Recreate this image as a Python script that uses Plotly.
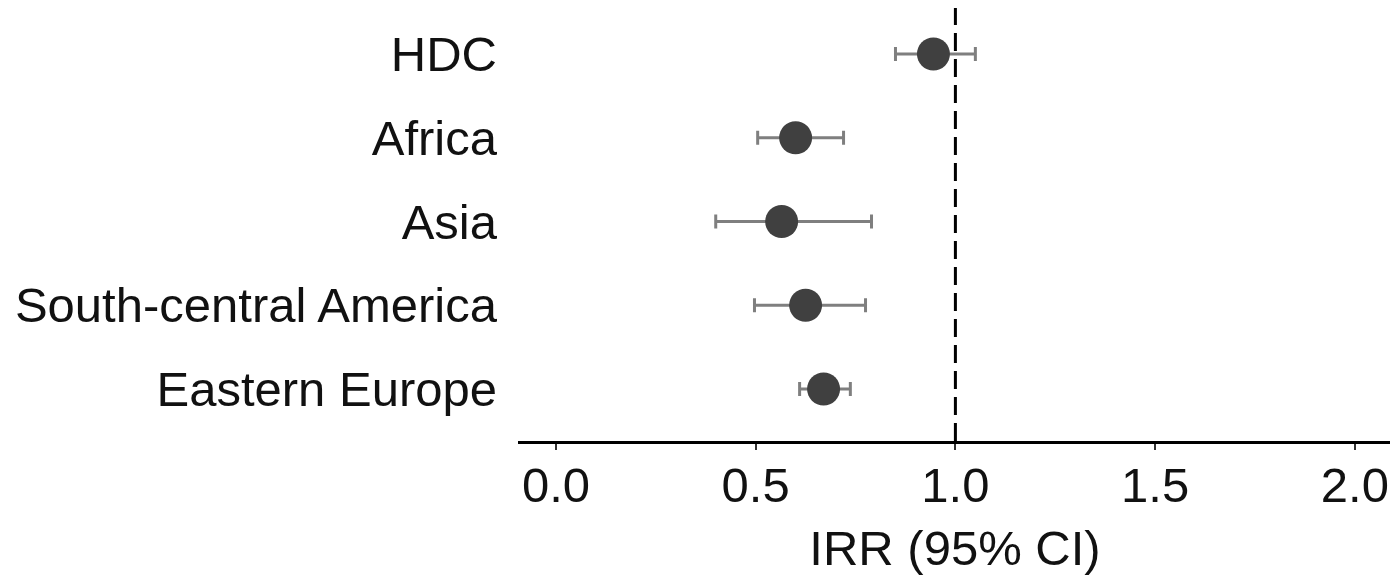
import plotly.graph_objects as go

# forest plot of IRR by region of origin
regions = ['HDC', 'Africa', 'Asia', 'South-central America', 'Eastern Europe']
irr = [0.945, 0.60, 0.565, 0.625, 0.67]
ci_low = [0.85, 0.505, 0.40, 0.497, 0.61]
ci_high = [1.05, 0.72, 0.79, 0.775, 0.737]

x_ticks = [0.0, 0.5, 1.0, 1.5, 2.0]
ref_line = 1.0

err_plus = [h - m for h, m in zip(ci_high, irr)]
err_minus = [m - l for m, l in zip(irr, ci_low)]

font_family = 'Liberation Sans, Arial, sans-serif'
fsize = 49

fig = go.Figure()
fig.add_trace(go.Scatter(
    x=irr,
    y=regions,
    mode='markers',
    marker=dict(size=33, color='#404040', line=dict(width=0)),
    error_x=dict(type='data', symmetric=False, array=err_plus, arrayminus=err_minus,
                 color='#7f7f7f', thickness=3, width=7),
    showlegend=False,
))

# reference line at IRR = 1
fig.add_shape(type='line', x0=ref_line, x1=ref_line, xref='x', y0=0, y1=1, yref='paper',
              line=dict(color='black', width=3, dash='18px,8px'), layer='above')

# page body has an 8px margin, so the figure is a bit smaller than the window
fig.update_layout(
    width=1390,
    height=574,
    margin=dict(l=510, r=6, t=0, b=141),
    paper_bgcolor='white',
    plot_bgcolor='white',
    font=dict(family=font_family, size=fsize, color='#111111'),
    xaxis=dict(
        range=[-0.095, 2.093],
        tickvals=x_ticks,
        tickformat='.1f',
        showgrid=False,
        zeroline=False,
        showline=True,
        linecolor='black',
        linewidth=3,
        ticks='outside',
        ticklen=6,
        tickwidth=2,
        tickcolor='#333333',
        ticklabelstandoff=-7,
        tickfont=dict(size=fsize, color='#111111'),
        title=dict(text='IRR (95% CI)', font=dict(size=fsize, color='#111111'), standoff=20),
    ),
    yaxis=dict(
        type='category',
        categoryorder='array',
        categoryarray=regions[::-1],
        range=[-0.621, 4.549],
        showgrid=False,
        zeroline=False,
        showline=False,
        ticks='',
        ticklabelstandoff=20,
        tickfont=dict(size=fsize, color='#111111'),
    ),
)

fig.write_html('out.html')
